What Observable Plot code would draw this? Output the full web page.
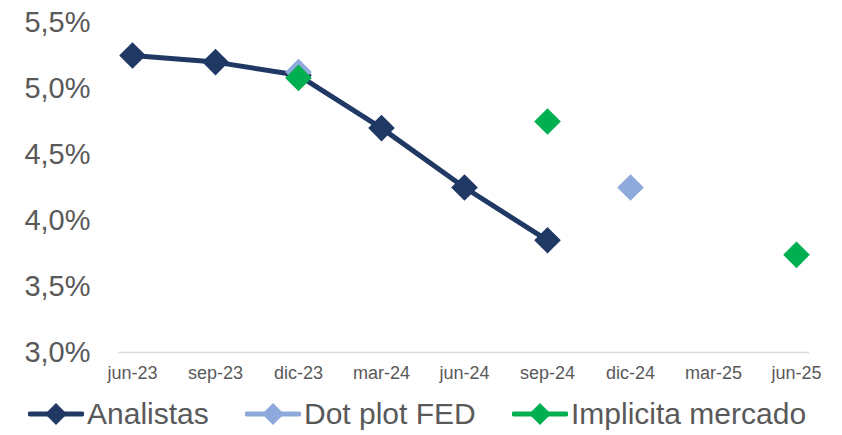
<!DOCTYPE html>
<html><head><meta charset="utf-8">
<script src="https://cdn.jsdelivr.net/npm/d3@7"></script>
<script src="https://cdn.jsdelivr.net/npm/@observablehq/plot@0.6"></script>
<style>
body{margin:0;background:#fff;font-family:"Liberation Sans",Arial,sans-serif;}
#legend{position:relative;height:40px;color:#595959;font-size:30px;}
.item{position:absolute;top:2px;display:flex;align-items:center;white-space:nowrap;}
.item span{margin-left:3px;}
</style></head>
<body>
<div id="chart"></div>
<div id="legend"></div>
<script>
const periods = ["jun-23","sep-23","dic-23","mar-24","jun-24","sep-24","dic-24","mar-25","jun-25"];
const analistasPeriods = ["jun-23","sep-23","dic-23","mar-24","jun-24","sep-24"];
const analistasValues = [5.25, 5.20, 5.10, 4.70, 4.25, 3.85];
const dotPeriods = ["dic-23","dic-24"];
const dotValues = [5.125, 4.25];
const mercadoPeriods = ["dic-23","sep-24","jun-25"];
const mercadoValues = [5.08, 4.75, 3.74];
const yTicks = [3.0, 3.5, 4.0, 4.5, 5.0, 5.5];
const colors = {analistas:"#1F3864", dot:"#8EA9DB", mercado:"#00B050"};

const analistas = analistasPeriods.map((p,i)=>({p, v:analistasValues[i]}));
const dot = dotPeriods.map((p,i)=>({p, v:dotValues[i]}));
const mercado = mercadoPeriods.map((p,i)=>({p, v:mercadoValues[i]}));
const fmt = d => d.toFixed(1).replace(".", ",") + "%";

const chart = Plot.plot({
  width: 842, height: 395,
  marginLeft: 118, marginRight: 33, marginTop: 22, marginBottom: 43,
  style: {fontFamily: "'Liberation Sans', Arial, sans-serif", background: "#fff"},
  x: {type:"point", domain: periods, padding: 0.14, label: null},
  y: {domain:[3,5.5], ticks: yTicks, label: null},
  marks: [
    Plot.ruleY([3], {stroke:"#d9d9d9", strokeWidth:1.5}),
    Plot.axisY({ticks: yTicks, tickFormat: fmt, tickSize:0, tickPadding:28, fontSize:29, fill:"#595959", label:null}),
    Plot.axisX({tickSize:0, tickPadding:14, fontSize:18, fill:"#595959", label:null, fontFamily:"'Liberation Sans Narrow','Arial Narrow',sans-serif"}),
    Plot.line(analistas, {x:"p", y:"v", stroke:colors.analistas, strokeWidth:5}),
    Plot.dot(analistas, {x:"p", y:"v", symbol:"diamond2", r:12, fill:colors.analistas}),
    Plot.dot(dot, {x:"p", y:"v", symbol:"diamond2", r:12, fill:colors.dot}),
    Plot.dot(mercado, {x:"p", y:"v", symbol:"diamond2", r:12, fill:colors.mercado})
  ]
});
document.getElementById("chart").appendChild(chart);

const legendItems = [
  {name:"Analistas", color:colors.analistas, left:28},
  {name:"Dot plot FED", color:colors.dot, left:245},
  {name:"Implicita mercado", color:colors.mercado, left:512}
];
const legend = document.getElementById("legend");
legendItems.forEach(it=>{
  const d = document.createElement("div");
  d.className="item";
  d.style.left = it.left+"px";
  d.innerHTML = `<svg width="56" height="26"><line x1="2" y1="13" x2="54" y2="13" stroke="${it.color}" stroke-width="5" stroke-linecap="round"/><path d="M28,2 L39,13 L28,24 L17,13Z" fill="${it.color}"/></svg><span>${it.name}</span>`;
  legend.appendChild(d);
});
</script>
</body></html>
